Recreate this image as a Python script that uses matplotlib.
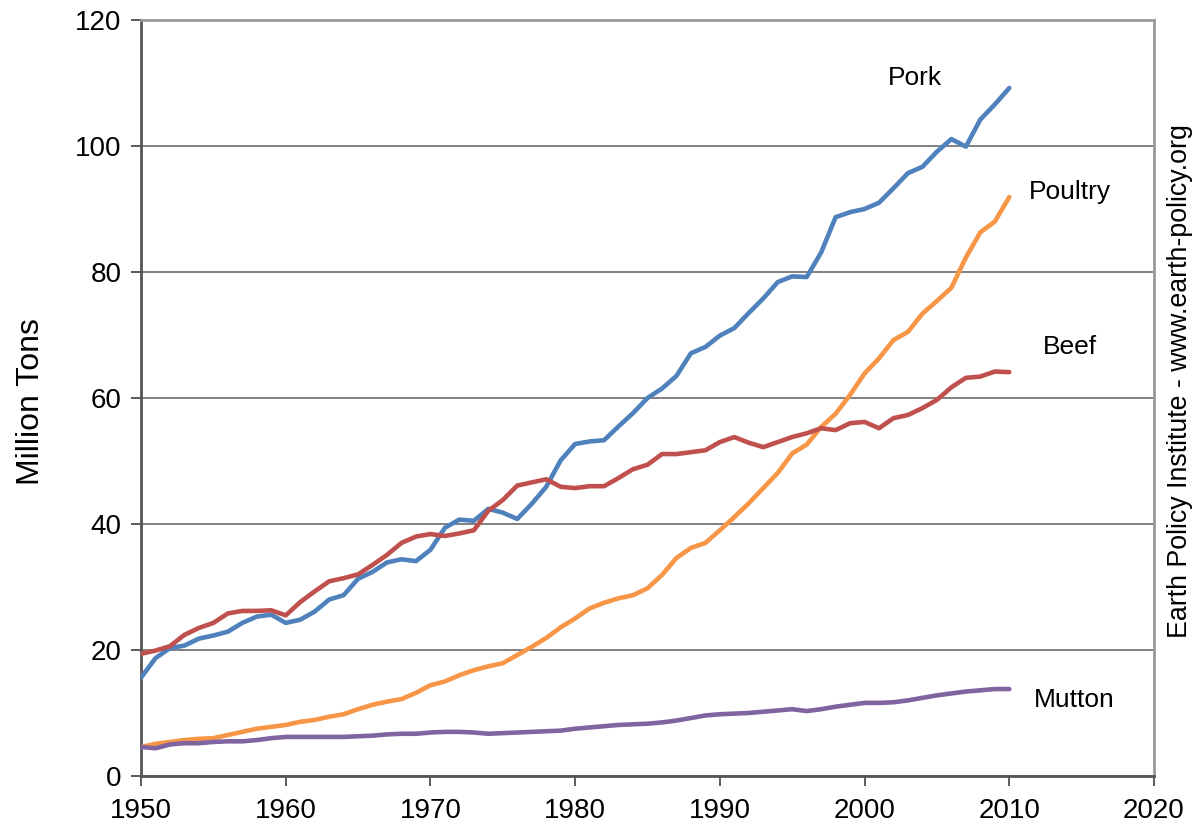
from matplotlib import pyplot as plt
import numpy as np

plt.rcParams['font.family'] = ['Liberation Sans', 'DejaVu Sans']

years = np.arange(1950, 2011)

pork = [15.6, 18.7, 20.3, 20.7, 21.8, 22.3, 22.9, 24.3, 25.3, 25.6,
        24.3, 24.8, 26.1, 28.0, 28.7, 31.3, 32.4, 33.9, 34.4, 34.1,
        35.9, 39.4, 40.7, 40.5, 42.4, 41.8, 40.8, 43.2, 45.9, 50.1,
        52.7, 53.1, 53.3, 55.5, 57.6, 60.0, 61.5, 63.5, 67.1, 68.1,
        69.9, 71.1, 73.5, 75.8, 78.4, 79.3, 79.2, 83.1, 88.7, 89.5,
        90.0, 91.0, 93.3, 95.7, 96.7, 99.1, 101.1, 99.9, 104.2, 106.6,
        109.2]

poultry = [4.6, 5.1, 5.4, 5.7, 5.9, 6.0, 6.5, 7.0, 7.5, 7.8,
           8.1, 8.6, 8.9, 9.4, 9.8, 10.6, 11.3, 11.8, 12.2, 13.2,
           14.4, 15.0, 16.0, 16.8, 17.4, 17.9, 19.2, 20.5, 21.9, 23.6,
           25.0, 26.6, 27.5, 28.2, 28.7, 29.8, 31.9, 34.6, 36.2, 37.0,
           39.0, 41.1, 43.3, 45.7, 48.1, 51.2, 52.6, 55.4, 57.5, 60.5,
           63.9, 66.3, 69.2, 70.5, 73.4, 75.4, 77.5, 82.3, 86.3, 88.0,
           91.9]

beef = [19.4, 19.9, 20.6, 22.4, 23.5, 24.3, 25.8, 26.2, 26.2, 26.3,
        25.5, 27.6, 29.3, 30.9, 31.4, 32.0, 33.5, 35.1, 37.0, 38.0,
        38.4, 38.1, 38.5, 39.0, 42.1, 43.8, 46.1, 46.6, 47.1, 45.9,
        45.7, 46.0, 46.0, 47.3, 48.7, 49.4, 51.1, 51.1, 51.4, 51.7,
        53.0, 53.8, 52.9, 52.2, 53.0, 53.8, 54.4, 55.2, 54.9, 56.0,
        56.2, 55.2, 56.8, 57.3, 58.4, 59.7, 61.7, 63.2, 63.4, 64.2,
        64.1]

mutton = [4.6, 4.4, 5.0, 5.2, 5.2, 5.4, 5.5, 5.5, 5.7, 6.0,
          6.2, 6.2, 6.2, 6.2, 6.2, 6.3, 6.4, 6.6, 6.7, 6.7,
          6.9, 7.0, 7.0, 6.9, 6.7, 6.8, 6.9, 7.0, 7.1, 7.2,
          7.5, 7.7, 7.9, 8.1, 8.2, 8.3, 8.5, 8.8, 9.2, 9.6,
          9.8, 9.9, 10.0, 10.2, 10.4, 10.6, 10.3, 10.6, 11.0, 11.3,
          11.6, 11.6, 11.7, 12.0, 12.4, 12.8, 13.1, 13.4, 13.6, 13.8,
          13.8]

labels = ['Pork', 'Poultry', 'Beef', 'Mutton']
colors = ['#4F81BD', '#F79646', '#C0504D', '#8064A2']
label_xy = [(2003.5, 110.8), (2014.2, 92.7), (2014.2, 68.1), (2014.5, 12.1)]

fig = plt.figure(figsize=(11.92, 8.27), dpi=100)
ax = fig.add_axes([0.1183, 0.0617, 0.8498, 0.9141])

for vals, c, lab, (tx, ty) in zip([pork, poultry, beef, mutton], colors, labels, label_xy):
    ax.plot(years, vals, color=c, lw=3.3, solid_capstyle='round', zorder=3)
    ax.text(tx, ty, lab, fontsize=19, ha='center', va='center')

ax.set_xlim(1950, 2020)
ax.set_ylim(0, 120)
ax.set_xticks(range(1950, 2021, 10))
ax.set_yticks(range(0, 121, 20))
ax.yaxis.grid(True, color='#808080', lw=1.4)
ax.set_axisbelow(True)
ax.tick_params(labelsize=20, direction='out', length=7, width=1.2, color='#404040', pad=7)
ax.tick_params(axis='x', pad=9)

for s in ['left', 'bottom']:
    ax.spines[s].set_color('#555555')
    ax.spines[s].set_linewidth(2)
for s in ['top', 'right']:
    ax.spines[s].set_color('#999999')
    ax.spines[s].set_linewidth(2)

fig.text(0.026, 0.515, 'Million Tons', rotation=90, fontsize=23, ha='center', va='center')
fig.text(0.99, 0.539, 'Earth Policy Institute - www.earth-policy.org', rotation=90,
         fontsize=19.3, ha='center', va='center')

fig.savefig('out.png', dpi=100)
